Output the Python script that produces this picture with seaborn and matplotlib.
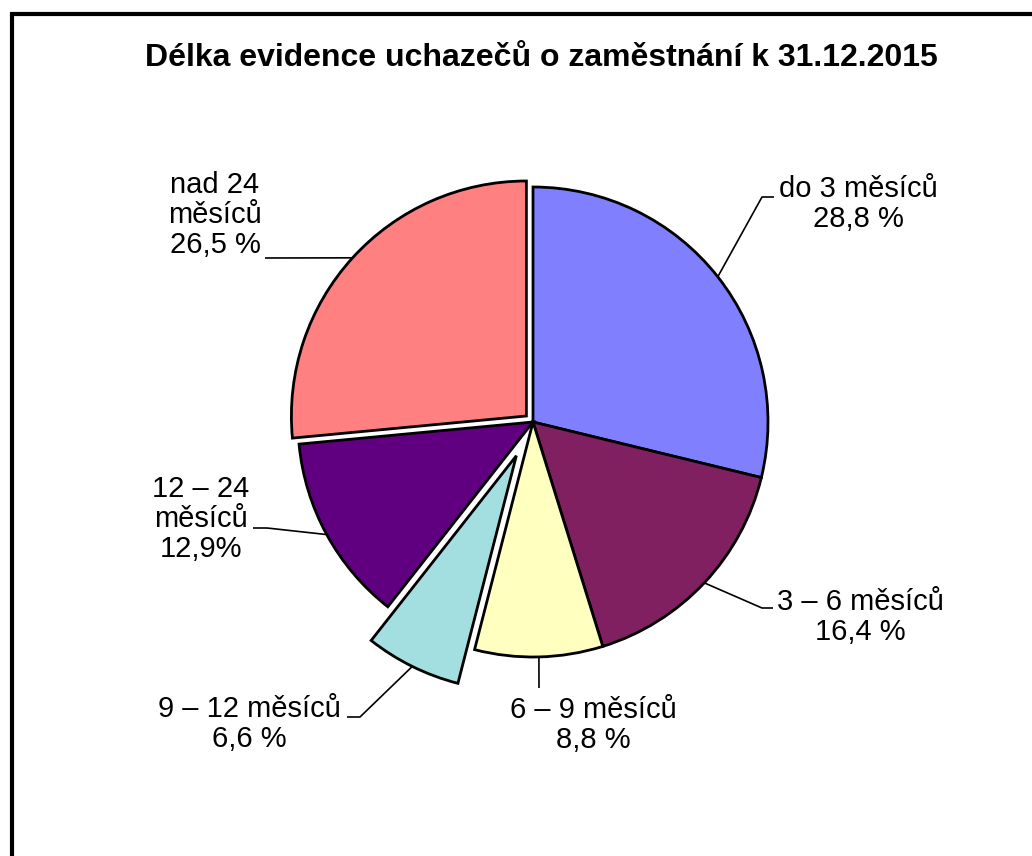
import numpy as np
import seaborn as sns
import matplotlib.pyplot as plt
from matplotlib.patches import Rectangle

# Data
categories = ["do 3 měsíců", "3 – 6 měsíců", "6 – 9 měsíců",
              "9 – 12 měsíců", "12 – 24 měsíců", "nad 24 měsíců"]
shares = [28.8, 16.4, 8.8, 6.6, 12.9, 26.5]
label_texts = ["do 3 měsíců\n28,8 %", "3 – 6 měsíců\n16,4 %", "6 – 9 měsíců\n8,8 %",
               "9 – 12 měsíců\n6,6 %", "12 – 24\nměsíců\n12,9%", "nad 24\nměsíců\n26,5 %"]
colors = ["#8080FF", "#802060", "#FFFFC0", "#A3DFE0", "#600080", "#FF8080"]
explode_frac = [0, 0, 0, 0.16, 0, 0.038]

W, H = 1032, 856
R = 235

def px(x, y):
    # pixel position (y from top) -> data coords of the full-figure axes
    return x, H - y

sns.set_theme(style="white")
plt.rcParams['font.family'] = ['Liberation Sans', 'DejaVu Sans']

fig = plt.figure(figsize=(W / 100, H / 100), dpi=100)
ax = fig.add_axes([0, 0, 1, 1])

# matplotlib's explode is in data units, so scale by the radius
wedges, _ = ax.pie(shares, colors=colors, explode=[e * R for e in explode_frac],
                   startangle=90, counterclock=False, radius=R,
                   center=px(533, 422),
                   wedgeprops=dict(edgecolor="black", linewidth=2),
                   frame=True)
ax.set_xlim(0, W)
ax.set_ylim(0, H)
ax.set_aspect("equal")
ax.axis("off")

# label layout: text centre, then leader line elbow and end (pixels)
text_pos = [(858, 204), (860, 617), (593, 725), (249, 724), (201, 519), (215, 215)]
elbows = [(762, 197), (762, 608), (539, 688), (360, 717), (267, 528), (265, 258)]
ends = [(774, 197), (773, 608), (539, 688), (347, 717), (253, 528), (265, 258)]

for w, txt, tp, el, en in zip(wedges, label_texts, text_pos, elbows, ends):
    mid = np.deg2rad((w.theta1 + w.theta2) / 2)
    cx, cy = w.center
    ax0, ay0 = cx + w.r * np.cos(mid), cy + w.r * np.sin(mid)
    ex, ey = px(*el)
    nx, ny = px(*en)
    ax.plot([ax0, ex, nx], [ay0, ey, ny], color="black", lw=1.2,
            solid_capstyle="butt", zorder=1)
    ax.text(*px(*tp), txt, ha="center", va="center", fontsize=21,
            linespacing=1.1, color="black")

ax.text(*px(541, 58), "Délka evidence uchazečů o zaměstnání k 31.12.2015",
        ha="center", va="center", fontsize=23, fontweight="bold", color="black")

# outer frame (only left and top edges visible in the reference)
fig.patches.append(Rectangle((12 / W, -0.1), 1.2, (H - 13.5) / H + 0.1,
                             transform=fig.transFigure, fill=False,
                             edgecolor="black", linewidth=3))

fig.savefig("out.png", dpi=100, facecolor="white")
